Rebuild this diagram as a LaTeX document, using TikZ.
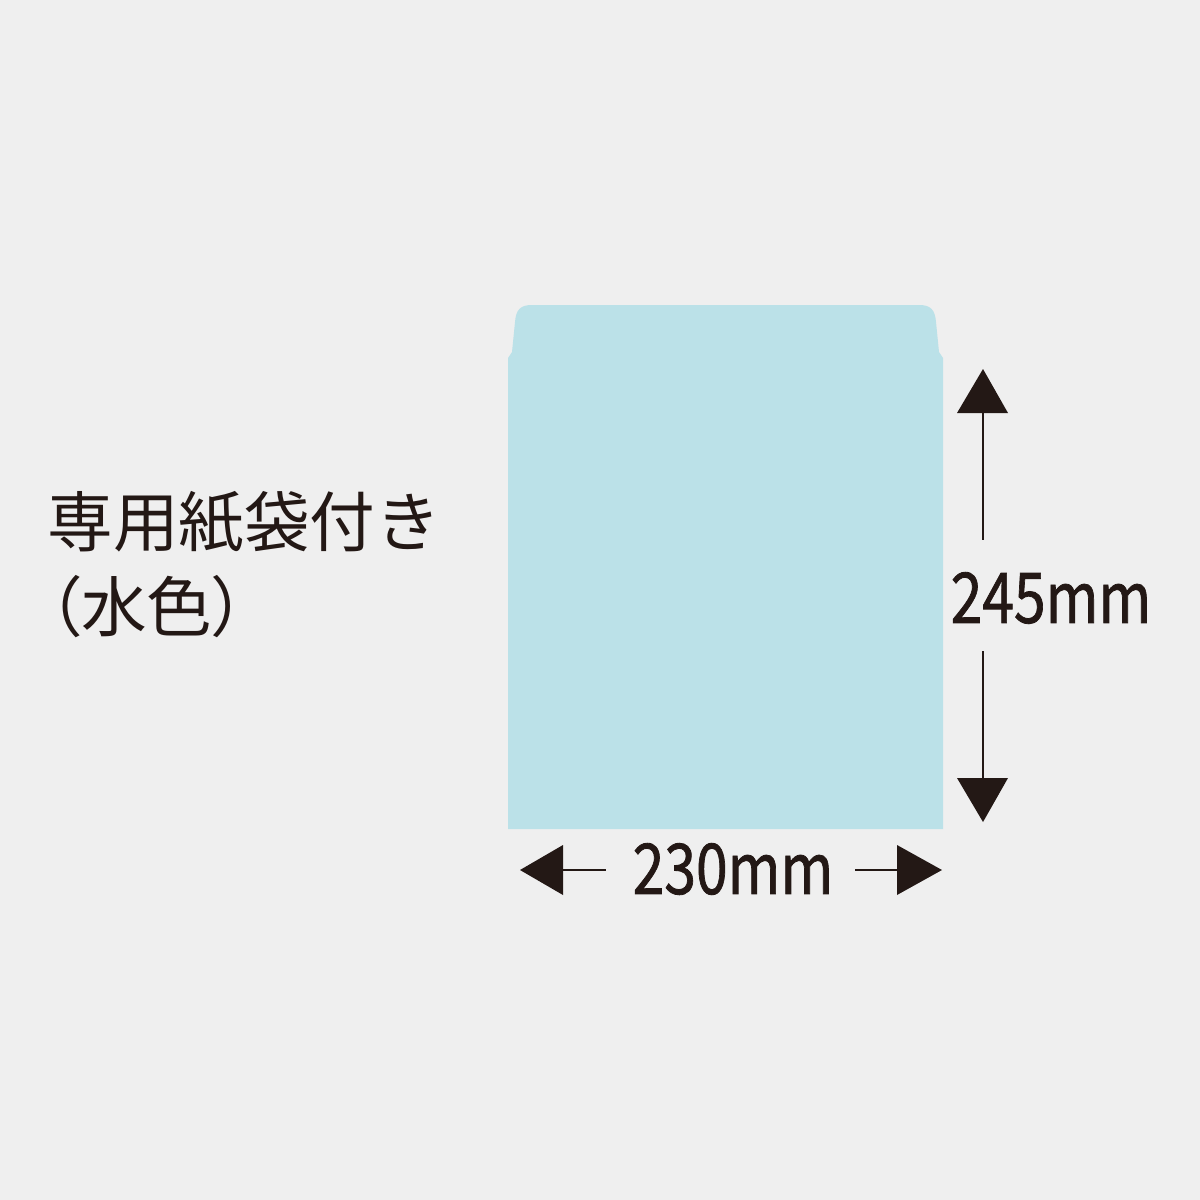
\documentclass[tikz,border=0pt]{standalone}
\usepackage{fontspec}
\newfontfamily\jp{Noto Sans CJK JP}
\newfontfamily\jpp[RawFeature=+palt]{Noto Sans CJK JP}
\newfontfamily\numfont[FakeBold=1.2]{Noto Sans CJK JP}
\definecolor{bg}{HTML}{EFEFEF}
\definecolor{env}{HTML}{BBE1E8}
\definecolor{ink}{HTML}{231815}
\begin{document}
\begin{tikzpicture}[x=0.5pt,y=-0.5pt,
  label/.style={inner sep=0pt,text=ink},
  dimtext/.style={inner sep=0pt,text=ink,font=\numfont\fontsize{35}{38}\selectfont,xscale=0.815},
  dimline/.style={draw=ink,line width=0.6pt},
  tri/.style={fill=ink}]
\fill[bg] (0,0) rectangle (1200,1200);
\useasboundingbox (0,0) rectangle (1200,1200);
% envelope
\fill[env] (508,829) -- (508,358) -- (512,352) -- (515,322)
  .. controls (516,310) and (520,305) .. (532,305) -- (919,305)
  .. controls (931,305) and (935,310) .. (936,322) -- (939,352) -- (943,358) -- (943,829) -- cycle;
% label
\node[label,anchor=west,font=\jp\fontsize{32.8}{36}\selectfont] (l1) at (47,522) {専用紙袋付き};
\node[label,anchor=west,font=\jpp\fontsize{32.8}{36}\selectfont] (l2) at (48,607) {（水色）};
% vertical dimension
\node[dimtext] (h) at (1051,598) {245mm};
\coordinate (vt) at (983,369);
\coordinate (vb) at (983,822);
\coordinate (vt1) at (983,413);
\coordinate (vb1) at (983,778);
\coordinate (vm1) at (983,540);
\coordinate (vm2) at (983,651);
\fill[tri] (vt) -- (1008,413) -- (957,413) -- cycle;
\fill[tri] (vb) -- (1008,778) -- (957,778) -- cycle;
\draw[dimline] (vt1) -- (vm1);
\draw[dimline] (vm2) -- (vb1);
% horizontal dimension
\node[dimtext] (w) at (733,869) {230mm};
\coordinate (hl) at (520,870);
\coordinate (hr) at (942,870);
\coordinate (hl1) at (563,870);
\coordinate (hr1) at (897,870);
\coordinate (hm1) at (606,870);
\coordinate (hm2) at (855,870);
\fill[tri] (hl) -- (563,845) -- (563,895) -- cycle;
\fill[tri] (hr) -- (897,845) -- (897,895) -- cycle;
\draw[dimline] (hl1) -- (hm1);
\draw[dimline] (hm2) -- (hr1);
\end{tikzpicture}
\end{document}
